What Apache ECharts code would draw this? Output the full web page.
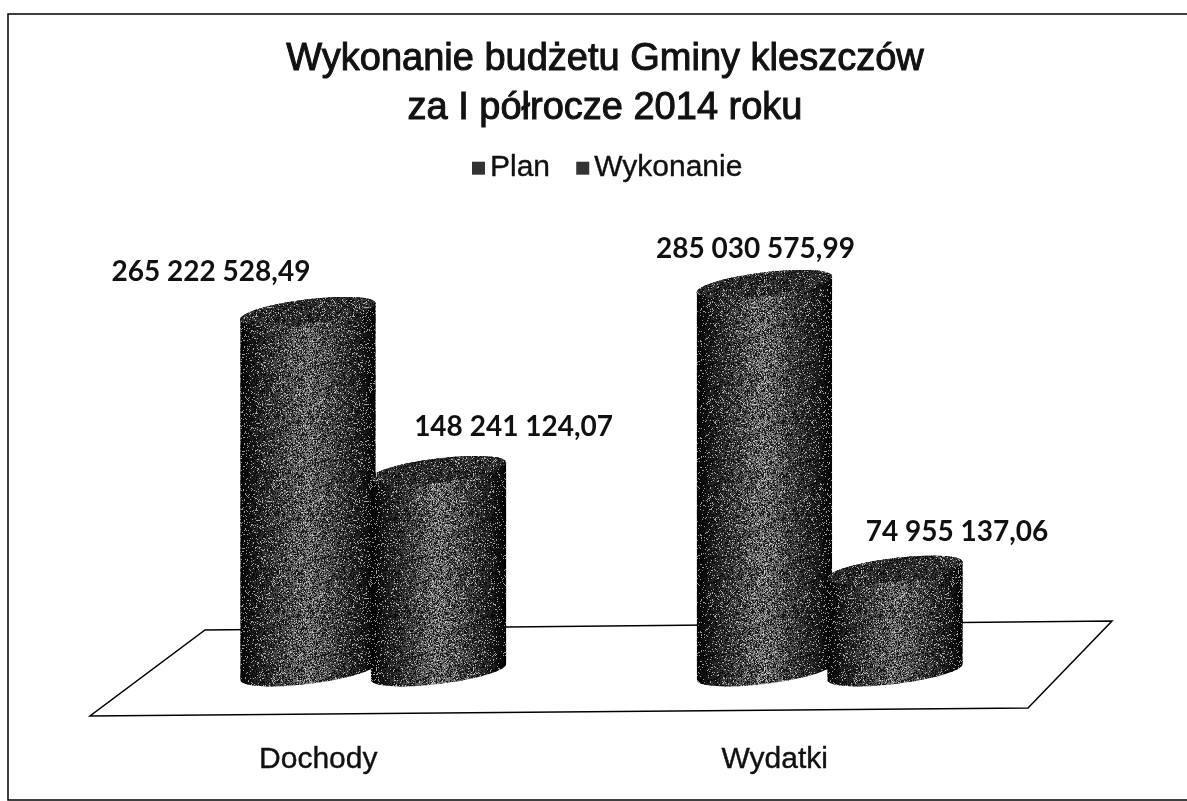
<!DOCTYPE html>
<html>
<head>
<meta charset="utf-8">
<title>Wykonanie budżetu</title>
<style>
    html, body { margin: 0; padding: 0; background: #fff; }
    #main { width: 1187px; height: 801px; }
</style>
</head>
<body>
<div id="main"></div>
<script src="https://cdn.jsdelivr.net/npm/echarts@6/dist/echarts.min.js"></script>
<script>
    const categories = ['Dochody', 'Wydatki'];
    const planValues = [265222528.49, 285030575.99];
    const wykonanieValues = [148241124.07, 74955137.06];
    const planLabels = ['265 222 528,49', '285 030 575,99'];
    const wykonanieLabels = ['148 241 124,07', '74 955 137,06'];

    // przesuniecia podpisow wzgledem srodka gornej podstawy walca
    const planShift = [[-97, -39], [-9, -35]];
    const wykonanieShift = [[75, -43], [62, -38]];

    // szum "skanu" nakladany na walce
    function makeSpeckle() {
        let c = document.createElement('canvas');
        c.width = c.height = 97;
        let ctx = c.getContext('2d');
        for (let y = 0; y < 97; y++) {
            for (let x = 0; x < 97; x++) {
                let h = Math.sin(x * 127.1 + y * 311.7) * 43758.5453;
                h = h - Math.floor(h);
                if (h > 0.9) {
                    ctx.fillStyle = 'rgba(255,255,255,0.6)';
                    ctx.fillRect(x, y, 1, 1);
                } else if (h < 0.4) {
                    ctx.fillStyle = 'rgba(0,0,0,0.75)';
                    ctx.fillRect(x, y, 1, 1);
                }
            }
        }
        return c;
    }
    const speckle = {image: makeSpeckle(), repeat: 'repeat'};

    const SKEW = 0.118; // nachylenie podstawy
    const RY = 12;

    function arc(cx, cy, a, from, to) {
        let pts = [];
        for (let i = 0; i <= 40; i++) {
            let t = from + (to - from) * i / 40;
            pts.push([cx + a * Math.cos(t), cy - SKEW * a * Math.cos(t) + RY * Math.sin(t)]);
        }
        return pts;
    }

    function cylinder(side, labels, shift) {
        return function (params, api) {
            let i = api.value(0);
            let top = api.coord([i, api.value(1)]);
            let base = api.coord([i, 0]);
            let band = api.size([1, 0])[0];
            let a = band * 0.148;
            let cx = top[0] + side * band * 0.143;
            // bok: dolny luk podstawy + gorny luk wieczka
            let body = arc(cx, base[1], a, Math.PI, 0).concat(arc(cx, top[1], a, 0, -Math.PI));
            let cap = arc(cx, top[1], a, 0, Math.PI * 2);
            let fill = new echarts.graphic.LinearGradient(0, 0, 1, 0, [
                {offset: 0, color: '#000'},
                {offset: 0.1, color: '#222'},
                {offset: 0.5, color: '#808080'},
                {offset: 0.9, color: '#222'},
                {offset: 1, color: '#000'}
            ]);
            return {
                type: 'group',
                children: [
                    {type: 'polygon', shape: {points: body}, style: {fill: fill}},
                    {type: 'polygon', shape: {points: body}, style: {fill: speckle}},
                    {type: 'polygon', shape: {points: cap}, style: {fill: '#3a3a3a'}},
                    {type: 'polygon', shape: {points: cap}, style: {fill: speckle}},
                    {
                        type: 'text',
                        style: {
                            x: cx + shift[i][0],
                            y: top[1] + shift[i][1],
                            text: labels[i],
                            fill: '#111',
                            font: '700 28px Lato',
                            align: 'center',
                            verticalAlign: 'middle'
                        }
                    }
                ]
            };
        };
    }

    let myChart = echarts.init(document.getElementById('main'));
    myChart.setOption({
        animation: false,
        backgroundColor: '#fff',
        title: {
            text: 'Wykonanie budżetu Gminy kleszczów\nza I półrocze 2014 roku',
            left: 600,
            top: 30,
            textAlign: 'center',
            textStyle: {
                fontFamily: 'Liberation Sans',
                fontSize: 38,
                fontWeight: 'normal',
                lineHeight: 49,
                color: '#111',
                textBorderColor: '#111',
                textBorderWidth: 1
            }
        },
        legend: {
            left: 467,
            top: 148,
            itemWidth: 13,
            itemHeight: 13,
            itemGap: 26,
            icon: 'rect',
            textStyle: {
                fontFamily: 'Liberation Sans',
                fontSize: 30,
                color: '#111',
                textBorderColor: '#111',
                textBorderWidth: 0.4
            },
            data: ['Plan', 'Wykonanie']
        },
        color: ['#333', '#333'],
        grid: {left: 145, right: 129, top: 264, bottom: 129},
        xAxis: {
            type: 'category',
            data: categories,
            axisLine: {show: false},
            axisTick: {show: false},
            axisLabel: {
                margin: 73,
                padding: [0, 110, 0, 0],
                fontFamily: 'Liberation Sans',
                fontSize: 30,
                color: '#111',
                textBorderColor: '#111',
                textBorderWidth: 0.4
            }
        },
        yAxis: {
            type: 'value',
            min: 0,
            max: 300000000,
            show: false
        },
        series: [
            {
                name: 'Plan',
                type: 'custom',
                z: 3,
                renderItem: cylinder(-1, planLabels, planShift),
                encode: {x: 0, y: 1},
                data: planValues.map((v, i) => [i, v])
            },
            {
                name: 'Wykonanie',
                type: 'custom',
                z: 4,
                renderItem: cylinder(1, wykonanieLabels, wykonanieShift),
                encode: {x: 0, y: 1},
                data: wykonanieValues.map((v, i) => [i, v])
            }
        ],
        graphic: [
            // podloga wykresu
            {
                type: 'polygon',
                z: 1,
                shape: {points: [[205, 630], [1112, 621], [1028, 708], [90, 716]]},
                style: {fill: '#fff', stroke: '#000', lineWidth: 1.5}
            },
            // ramka skanu
            {
                type: 'polyline',
                z: 1,
                shape: {points: [[1187, 14], [8, 14], [8, 800], [1187, 800]]},
                style: {fill: 'none', stroke: '#000', lineWidth: 1.5}
            }
        ]
    });
</script>
</body>
</html>
